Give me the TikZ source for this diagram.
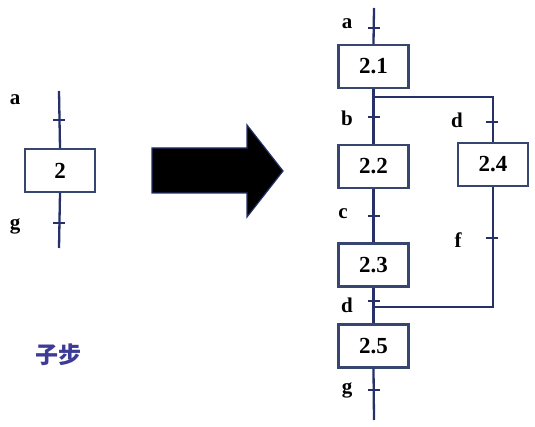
\documentclass[tikz,border=0pt]{standalone}
\usepackage{fontspec}
\setmainfont{Liberation Serif}
\newfontfamily\cjk{Noto Sans CJK SC}
\definecolor{navy}{RGB}{38,48,105}
\definecolor{boxc}{RGB}{55,70,110}
\definecolor{cjkc}{RGB}{60,60,150}
\begin{document}
\begin{tikzpicture}[x=1pt,y=-1pt,
  flow/.style={draw=navy,line width=2.3pt},
  box/.style={draw=boxc,line width=2.3pt,fill=white,minimum width=70pt,minimum height=43pt,inner sep=0pt,font=\fontsize{23}{23}\selectfont\bfseries},
  tk/.style={draw=navy,line width=2pt},
  lbl/.style={font=\fontsize{21}{21}\selectfont\bfseries,inner sep=0pt}]
\useasboundingbox (0,0) rectangle (535,427);
% left single step
\node[box] (s2) at (60,170.5) {2};
\coordinate (lt) at (59,91);
\coordinate (lb) at (59,248);
\draw[flow] (lt) -- (s2.north);
\draw[flow] (s2.south) -- (lb);
\draw[tk] (53,120) -- (65,120);
\draw[tk] (53,223) -- (65,223);
\node[lbl] (la) at (15,100) {a};
\node[lbl] (lg) at (15,226) {g};
\node[font=\cjk\fontsize{23}{23}\selectfont\bfseries,text=cjkc,inner sep=0pt] (zb) at (58,355) {子步};
% big arrow
\filldraw[fill=black,draw=navy,line width=1.2pt]
  (152,148) -- (247,148) -- (247,125) -- (283,171) -- (247,217) -- (247,193) -- (152,193) -- cycle;
% right expanded
\node[box] (s21) at (373.5,66.5) {2.1};
\node[box] (s22) at (373.5,166.5) {2.2};
\node[box] (s24) at (493,164.5) {2.4};
\node[box] (s23) at (373.5,265) {2.3};
\node[box] (s25) at (373.5,346) {2.5};
\coordinate (rt) at (374,8);
\coordinate (rb) at (374,420);
\coordinate (br) at (374,97);
\coordinate (jn) at (374,307);
\draw[flow] (rt) -- (s21.north);
\draw[flow] (s21.south) -- (s22.north);
\draw[flow] (br) -| (s24.north);
\draw[flow] (s22.south) -- (s23.north);
\draw[flow] (s23.south) -- (s25.north);
\draw[flow] (s24.south) |- (jn);
\draw[flow] (s25.south) -- (rb);
\foreach \y in {28,117,216,301,390} \draw[tk] (368,\y) -- (380,\y);
\foreach \y in {122,238} \draw[tk] (486,\y) -- (498,\y);
\node[lbl] (ra) at (347,24) {a};
\node[lbl] (rbb) at (347,118) {b};
\node[lbl] (rd) at (457,120) {d};
\node[lbl] (rc) at (343,214) {c};
\node[lbl] (rf) at (458,240) {f};
\node[lbl] (rd2) at (347,305) {d};
\node[lbl] (rg) at (347,390) {g};
\end{tikzpicture}
\end{document}
